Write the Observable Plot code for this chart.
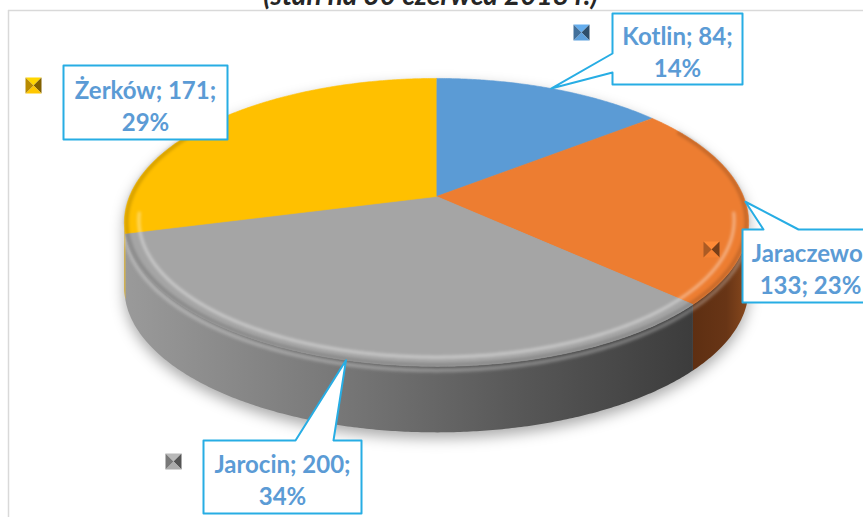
<!DOCTYPE html>
<html><head><meta charset="utf-8">
<script src="https://cdn.jsdelivr.net/npm/d3@7"></script>
<script src="https://cdn.jsdelivr.net/npm/@observablehq/plot@0.6"></script>
<style>body{margin:0;background:#fff;} svg{display:block}</style>
</head><body><div id="chart"></div>
<script>
// ---- data ----
const categories = ["Kotlin", "Jaraczewo", "Jarocin", "Żerków"];
const values = [84, 133, 200, 171];
const titleText = "(stan na 30 czerwca 2018 r.)";

// ---- styles / layout ----
const topColors = ["#5b9bd5", "#ed7d31", "#a5a5a5", "#ffc000"];
const wallGradIds = ["gBlue", "gOrange", "gGray", "gYellow"];
const labelBreak = [2, 1, 2, 2];              // break line after n-th field
const labelBoxes = [[612, 13, 742, 84], [742, 229, 878, 302], [203, 440, 361, 513], [63, 65, 227, 139]];
const pointerSide = ["left", "top", "top", "none"];
const pointerBase = [[53, 72], [763, 798], [295, 333], null];
const markerPos = [[581, 32], [711, 249], [173, 461], [33, 85]];
const W = 863, H = 517;
const geo = {cx: 436, cy: 196, A: 307, B: 139.3, p: 0.18, depth: 66};

const total = d3.sum(values);
const deg = Math.PI / 180;
function proj(t, k = 1, dy = 0) {
  const s = Math.sin(t) * k, c = Math.cos(t) * k, den = 1 + geo.p * c;
  return {x: geo.cx + geo.A * s / den, y: geo.cy - geo.B * c / den + dy};
}
function arc(a, b, k = 1, dy = 0) {
  const n = Math.max(2, Math.ceil(Math.abs(b - a) / (0.5 * deg)));
  return d3.range(n + 1).map(i => proj(a + (b - a) * i / n, k, dy));
}
let acc = 0;
const slices = values.map((v, i) => {
  const a = acc / total * 2 * Math.PI; acc += v;
  const b = acc / total * 2 * Math.PI;
  return {i, cat: categories[i], v, a, b, mid: (a + b) / 2, pct: Math.round(v / total * 100) + "%"};
});
const tL = Math.acos(-geo.p), tR = 2 * Math.PI - tL;

const marks = [];
// frame
marks.push(Plot.ruleY([10], {x1: 8, x2: W, stroke: "#d9d9d9", strokeWidth: 1.5}));
marks.push(Plot.ruleX([8], {y1: 10, y2: H, stroke: "#d9d9d9", strokeWidth: 1.5}));
// title (cut off at top)
marks.push(Plot.text([titleText], {x: () => 430, y: () => -4, text: d => d, fontSize: 28, fontStyle: "italic", fontWeight: "bold", fontFamily: "Lato", fill: "#262626"}));

// shadow
const shadowPts = [...arc(tR, tL + 2 * Math.PI, 1, 6), ...arc(tL, tR, 1, geo.depth + 6)];
marks.push(Plot.line(shadowPts, {x: "x", y: "y", fill: "url(#shadowFill)", stroke: "none", curve: "linear"}));

// walls
for (const s of slices) {
  const a = Math.max(s.a, tL), b = Math.min(s.b, tR);
  if (b > a) {
    const pts = [...arc(a, b), ...arc(b, a, 1, geo.depth)];
    marks.push(Plot.line(pts, {x: "x", y: "y", fill: `url(#${wallGradIds[s.i]})`, stroke: "none", curve: "linear"}));
  }
}
// wall top highlight band
marks.push(Plot.line(arc(tL, tR, 1, 4), {x: "x", y: "y", stroke: "#fdfdfd", strokeOpacity: 0.28, strokeWidth: 4, curve: "linear"}));

// top faces
for (const s of slices) {
  const pts = [{x: geo.cx, y: geo.cy}, ...arc(s.a, s.b)];
  marks.push(Plot.line(pts, {x: "x", y: "y", fill: topColors[s.i], stroke: topColors[s.i], strokeWidth: 0.6, curve: "linear"}));
}
// bevel: rim darkening and inner highlight
marks.push(Plot.line(arc(60 * deg, 300 * deg, 0.993), {x: "x", y: "y", stroke: "#010101", strokeOpacity: 0.16, strokeWidth: 4, curve: "linear"}));
marks.push(Plot.line(arc(97 * deg, 263 * deg, 0.955), {x: "x", y: "y", stroke: "#fefefe", strokeOpacity: 0.4, strokeWidth: 3, curve: "linear"}));

// callouts
labelBoxes.forEach(([x1, y1, x2, y2], i) => {
  const tip = proj(slices[i].mid);
  let pts;
  if (pointerSide[i] === "left") {
    const [p1, p2] = pointerBase[i];
    pts = [{x: x1, y: y1}, {x: x2, y: y1}, {x: x2, y: y2}, {x: x1, y: y2}, {x: x1, y: p2}, tip, {x: x1, y: p1}, {x: x1, y: y1}];
  } else if (pointerSide[i] === "top") {
    const [p1, p2] = pointerBase[i];
    pts = [{x: x1, y: y1}, {x: p1, y: y1}, tip, {x: p2, y: y1}, {x: x2, y: y1}, {x: x2, y: y2}, {x: x1, y: y2}, {x: x1, y: y1}];
  } else {
    pts = [{x: x1, y: y1}, {x: x2, y: y1}, {x: x2, y: y2}, {x: x1, y: y2}, {x: x1, y: y1}];
  }
  marks.push(Plot.line(pts, {x: "x", y: "y", fill: "white", stroke: "#27ade4", strokeWidth: 2, curve: "linear"}));
});
// label texts
const labelData = slices.map(s => {
  const parts = [s.cat + ";", s.v + ";", s.pct];
  const br = labelBreak[s.i];
  const [x1, y1, x2, y2] = labelBoxes[s.i];
  return {text: parts.slice(0, br).join(" ") + "\n" + parts.slice(br).join(" "), x: (x1 + x2) / 2, y: (y1 + y2) / 2 + 2};
});
marks.push(Plot.text(labelData, {x: "x", y: "y", text: "text", fontSize: 24, fontWeight: "bold", fontFamily: "Lato", fill: "#5b9bd5", lineHeight: 1.33}));

// legend-key markers (bevelled squares)
slices.forEach(s => {
  const [mx, my] = markerPos[s.i], h = 8;
  const base = d3.color(topColors[s.i]);
  const tris = [
    [[mx - h, my - h], [mx + h, my - h], base.brighter(0.3)],
    [[mx + h, my - h], [mx + h, my + h], base.darker(1.9)],
    [[mx + h, my + h], [mx - h, my + h], base.brighter(0.1)],
    [[mx - h, my + h], [mx - h, my - h], base.darker(0.9)]
  ];
  for (const [p, q, col] of tris) {
    marks.push(Plot.line([{x: p[0], y: p[1]}, {x: q[0], y: q[1]}, {x: mx, y: my}], {x: "x", y: "y", fill: col.formatHex(), stroke: "none", curve: "linear"}));
  }
});

const svg = Plot.plot({
  width: W, height: H,
  margin: 0,
  x: {domain: [0, W], range: [0, W], axis: null},
  y: {domain: [0, H], range: [0, H], axis: null},
  style: {background: "white", overflow: "hidden"},
  marks
});

// defs: gradients and filters
const ns = "http://www.w3.org/2000/svg";
const defs = document.createElementNS(ns, "defs");
defs.innerHTML = `
  <linearGradient id="shadowFill"><stop offset="0" stop-color="#000" stop-opacity="0.33"/><stop offset="1" stop-color="#000" stop-opacity="0.33"/></linearGradient>
  <linearGradient id="gGray" x1="0" x2="1" y1="0" y2="0">
    <stop offset="0" stop-color="#9a9a9a"/><stop offset="0.35" stop-color="#7a7a7a"/><stop offset="0.7" stop-color="#575757"/><stop offset="1" stop-color="#3c3c3c"/></linearGradient>
  <linearGradient id="gOrange" x1="0" x2="1" y1="0" y2="0">
    <stop offset="0" stop-color="#5e2f12"/><stop offset="0.6" stop-color="#683516"/><stop offset="1" stop-color="#8a4a1e"/></linearGradient>
  <linearGradient id="gYellow" x1="0" x2="1"><stop offset="0" stop-color="#c99600"/><stop offset="1" stop-color="#d9a400"/></linearGradient>
  <linearGradient id="gBlue" x1="0" x2="1"><stop offset="0" stop-color="#3a6a98"/><stop offset="1" stop-color="#3a6a98"/></linearGradient>
  <filter id="blurShadow" x="-20%" y="-20%" width="140%" height="140%"><feGaussianBlur stdDeviation="7"/></filter>
  <filter id="blurSoft" x="-10%" y="-10%" width="120%" height="120%"><feGaussianBlur stdDeviation="1.6"/></filter>`;
svg.insertBefore(defs, svg.firstChild);
svg.querySelectorAll('[fill="url(#shadowFill)"]').forEach(e => e.setAttribute("filter", "url(#blurShadow)"));
svg.querySelectorAll('[stroke="#fefefe"],[stroke="#fdfdfd"],[stroke="#010101"]').forEach(e => e.setAttribute("filter", "url(#blurSoft)"));
document.getElementById("chart").appendChild(svg);
</script>
</body></html>
